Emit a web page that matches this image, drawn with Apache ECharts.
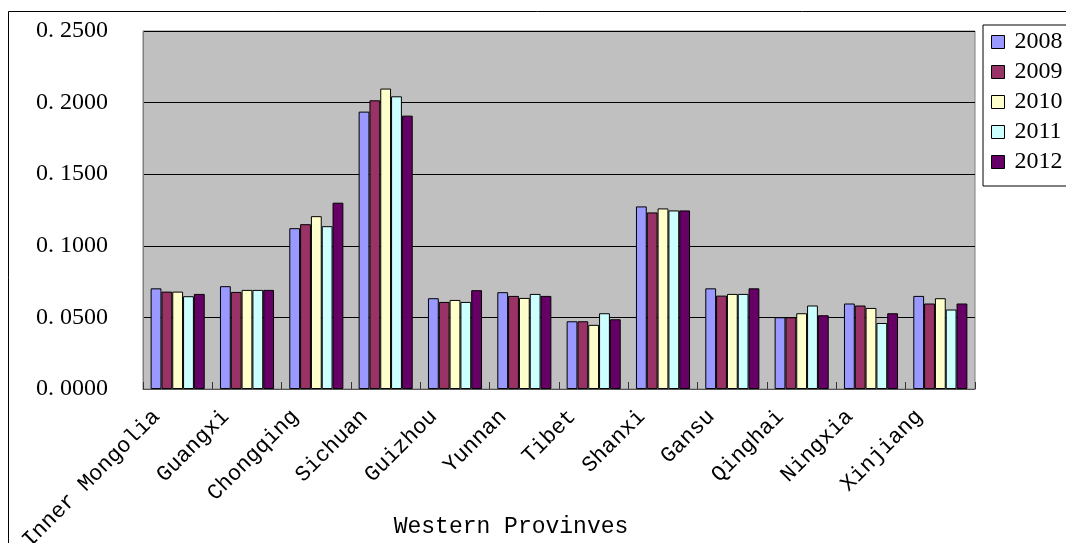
<!DOCTYPE html>
<html>
<head>
<meta charset="utf-8">
<style>
  html, body { margin: 0; padding: 0; background: #fff; }
  #chart { width: 1066px; height: 543px; }
</style>
<script src="https://cdn.jsdelivr.net/npm/echarts@6/dist/echarts.min.js"></script>
</head>
<body>
<div id="chart"></div>
<script>
// Provinces along the category axis
const provinces = ['Inner Mongolia', 'Guangxi', 'Chongqing', 'Sichuan', 'Guizhou', 'Yunnan',
  'Tibet', 'Shanxi', 'Gansu', 'Qinghai', 'Ningxia', 'Xinjiang'];

// Yearly values per province
const y2008 = [0.0703, 0.0718, 0.1123, 0.1937, 0.0634, 0.0676, 0.0473, 0.1275, 0.0703, 0.0501, 0.0597, 0.0650];
const y2009 = [0.0680, 0.0678, 0.1151, 0.2016, 0.0608, 0.0650, 0.0473, 0.1233, 0.0652, 0.0501, 0.0583, 0.0597];
const y2010 = [0.0680, 0.0692, 0.1207, 0.2098, 0.0622, 0.0636, 0.0448, 0.1261, 0.0664, 0.0529, 0.0566, 0.0634];
const y2011 = [0.0648, 0.0692, 0.1137, 0.2044, 0.0608, 0.0664, 0.0529, 0.1247, 0.0664, 0.0583, 0.0461, 0.0555];
const y2012 = [0.0664, 0.0692, 0.1301, 0.1909, 0.0690, 0.0650, 0.0487, 0.1247, 0.0703, 0.0515, 0.0529, 0.0597];

const years = ['2008', '2009', '2010', '2011', '2012'];
const yearData = [y2008, y2009, y2010, y2011, y2012];
const yearColors = ['#9999FF', '#993366', '#FFFFCC', '#CCFFFF', '#660066'];

const serif = 'Liberation Serif, DejaVu Serif, serif';
const mono = 'Liberation Mono, DejaVu Sans Mono, monospace';

const chart = echarts.init(document.getElementById('chart'), null, { renderer: 'canvas' });

chart.setOption({
  animation: false,
  backgroundColor: '#ffffff',
  graphic: [{
    type: 'rect',
    z: -10,
    silent: true,
    shape: { x: 8.5, y: 11.5, width: 2000, height: 2000 },
    style: { fill: 'none', stroke: '#000', lineWidth: 1 }
  }],
  grid: {
    left: 143, top: 31, right: 91, bottom: 154,
    containLabel: false,
    outerBoundsMode: 'none',
    show: true,
    backgroundColor: '#C0C0C0',
    borderColor: '#808080',
    borderWidth: 1
  },
  legend: {
    orient: 'vertical',
    left: 983, top: 25,
    padding: [5, 30, 12, 8],
    backgroundColor: '#ffffff',
    borderColor: '#000',
    borderWidth: 1,
    itemWidth: 13,
    itemHeight: 13,
    itemGap: 6,
    icon: 'rect',
    itemStyle: { borderColor: '#000', borderWidth: 1 },
    textStyle: { fontFamily: serif, fontSize: 24, lineHeight: 24, color: '#000', padding: [0, 0, 0, 5] },
    data: years
  },
  xAxis: {
    type: 'category',
    data: provinces,
    name: 'Western Provinves',
    nameLocation: 'middle',
    nameGap: 126,
    nameMoveOverlap: false,
    nameTextStyle: { fontFamily: mono, fontSize: 23, color: '#000', padding: [0, 96, 0, 0] },
    axisLine: { lineStyle: { color: '#555', width: 1 } },
    axisTick: { show: true, inside: true, length: 7, lineStyle: { color: '#333' } },
    axisLabel: {
      rotate: 45,
      margin: 3,
      padding: [0, 30, 0, 0],
      fontFamily: mono,
      fontSize: 22,
      color: '#000',
      interval: 0
    },
    splitLine: { show: false }
  },
  yAxis: {
    type: 'value',
    min: 0, max: 0.25, interval: 0.05,
    axisLine: { show: true, lineStyle: { color: '#808080' } },
    axisTick: { show: false },
    axisLabel: {
      margin: 35,
      fontFamily: serif,
      fontSize: 24,
      color: '#000',
      formatter: v => v.toFixed(4).replace('.', '. ')
    },
    splitLine: { show: true, lineStyle: { color: '#000', width: 1 } }
  },
  series: years.map((yr, i) => ({
    name: yr,
    type: 'bar',
    data: yearData[i],
    barGap: '0%',
    barCategoryGap: '22%',
    itemStyle: { color: yearColors[i], borderColor: '#000', borderWidth: 1 }
  }))
});
</script>
</body>
</html>
